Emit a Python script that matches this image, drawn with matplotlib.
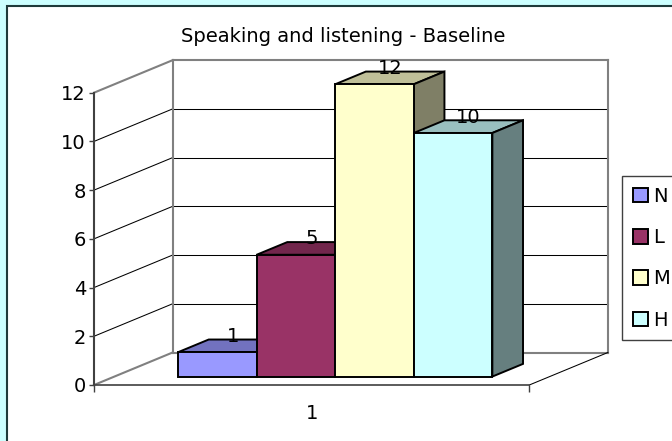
import matplotlib
matplotlib.use("Agg")
import matplotlib.pyplot as plt
from matplotlib.patches import Polygon, Rectangle

# chart data
title = "Speaking and listening - Baseline"
categories = ["1"]
series_names = ["N", "L", "M", "H"]
series_values = [1, 5, 12, 10]
front_colors = ["#9999FF", "#993366", "#FFFFCC", "#CCFFFF"]
y_ticks = [0, 2, 4, 6, 8, 10, 12]

plt.rcParams['font.family'] = ['DejaVu Sans']
FS = 14


def shade(hexcol, k):
    h = hexcol.lstrip('#')
    r, g, b = (int(h[i:i + 2], 16) for i in (0, 2, 4))
    return '#%02X%02X%02X' % (int(r * k), int(g * k), int(b * k))


fig = plt.figure(figsize=(6.72, 4.41), dpi=100, facecolor='#CCFFFF')
# white chart area with dark border (cut off on right/bottom)
bg = Rectangle((7 / 672, -0.1), 1.2, 1 - 6 / 441 + 0.1,
               transform=fig.transFigure, facecolor='white',
               edgecolor='#1F3A3A', lw=1.5, zorder=-5)
fig.patches.append(bg)

# axes = front plane of the 3D box
ax = fig.add_axes([94 / 672, 56 / 441, 435.3 / 672, 292.3 / 441])
ax.set_zorder(1)
ax.patch.set_visible(False)
W = 5.54          # floor width in bar units
DX, DY = 1.0, 1.334   # full-depth offset (x units, value units)
z0, z1 = 0.26, 0.65   # depth span of the bars
bar_start = 0.81
ymax = max(y_ticks)
ax.set_xlim(0, W)
ax.set_ylim(0, ymax)


def P(x, y, z):
    return (x + z * DX, y + z * DY)


gray = '#808080'
# back wall gridlines and side wall lines
for t in y_ticks:
    edge = t in (0, ymax)
    col = gray if edge else 'black'
    lw = 1.5 if edge else 0.75
    ax.plot(*zip(P(0, t, 0), P(0, t, 1)), color=col, lw=lw, zorder=2, clip_on=False)
    ax.plot(*zip(P(0, t, 1), P(W, t, 1)), color=col, lw=lw, zorder=2, clip_on=False)
for xx in (0, W):
    ax.plot(*zip(P(xx, 0, 1), P(xx, ymax, 1)), color=gray, lw=1.5, zorder=2, clip_on=False)
ax.plot(*zip(P(W, 0, 0), P(W, 0, 1)), color='black', lw=0.75, zorder=2, clip_on=False)

# bars
handles = []
for i, (name, v, c) in enumerate(zip(series_names, series_values, front_colors)):
    x0 = bar_start + i
    x1 = x0 + 1
    zo = 5 + i * 3
    top = [P(x0, v, z0), P(x1, v, z0), P(x1, v, z1), P(x0, v, z1)]
    side = [P(x1, 0, z0), P(x1, v, z0), P(x1, v, z1), P(x1, 0, z1)]
    ax.add_patch(Polygon(top, closed=True, facecolor=shade(c, 0.75),
                         edgecolor='black', lw=1.4, zorder=zo, clip_on=False))
    ax.add_patch(Polygon(side, closed=True, facecolor=shade(c, 0.5),
                         edgecolor='black', lw=1.4, zorder=zo, clip_on=False))
    b = ax.bar(x0 + z0 * DX, v, width=1, bottom=z0 * DY, align='edge',
               color=c, edgecolor='black', lw=1.4, zorder=zo + 1,
               label=name, clip_on=False)
    handles.append(b)
    xc, yc = P(x0 + 0.5, v, (z0 + z1) / 2)
    ax.text(xc, yc, str(v), ha='center', va='bottom', fontsize=FS, zorder=30)

# axes styling
for s in ('top', 'right'):
    ax.spines[s].set_visible(False)
ax.spines['left'].set_color('#404040')
ax.spines['left'].set_linewidth(1.5)
ax.spines['bottom'].set_color('#404040')
ax.spines['bottom'].set_linewidth(1.2)
ax.set_yticks(y_ticks)
ax.tick_params(axis='y', direction='out', length=3.6, width=1, color='#404040',
               pad=2.2, labelsize=FS)
ax.set_xticks([W / 2], categories)
ax.set_xticks([0, W], minor=True)
ax.tick_params(axis='x', which='major', length=0, pad=14, labelsize=FS)
ax.tick_params(axis='x', which='minor', direction='out', length=5, width=1,
               color='#404040')

fig.text(343 / 672, 1 - 36.7 / 441, title, ha='center', va='center', fontsize=FS)

leg = fig.legend(handles=handles, loc='upper left',
                 bbox_to_anchor=(622 / 672, 1 - 176 / 441),
                 bbox_transform=fig.transFigure, fontsize=FS,
                 frameon=True, fancybox=False, framealpha=1, edgecolor='#404040',
                 borderpad=0.55, handlelength=0.8, handleheight=0.8,
                 handletextpad=0.25, labelspacing=1.15, borderaxespad=0)
leg.get_frame().set_linewidth(1.0)

fig.savefig('out.png', dpi=100, facecolor=fig.get_facecolor())
